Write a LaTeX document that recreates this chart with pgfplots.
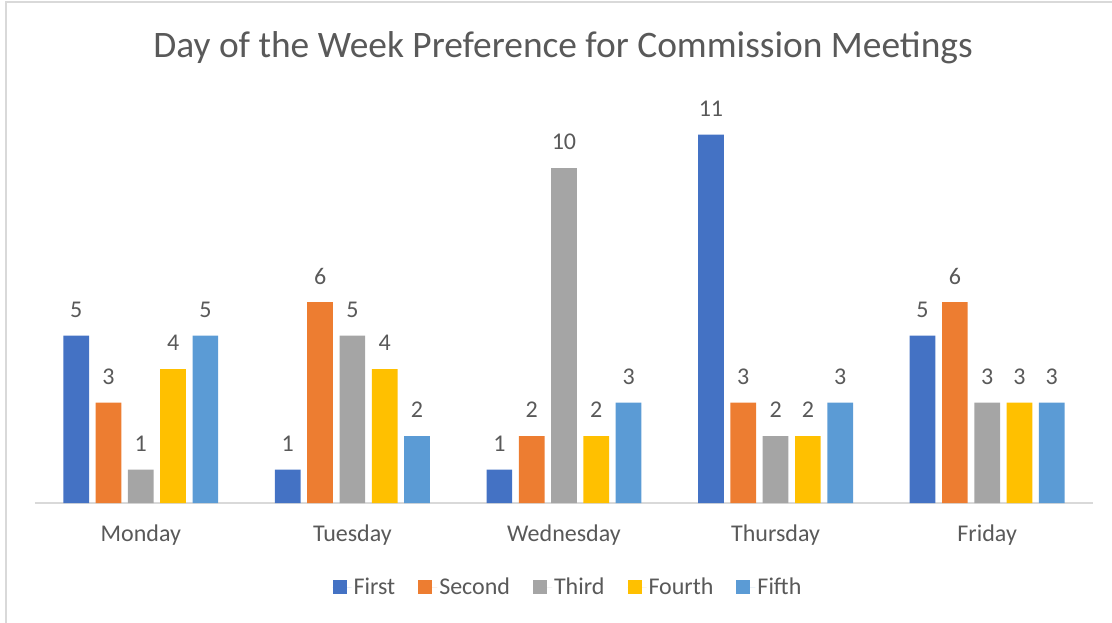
\documentclass[border=0pt]{standalone}
\usepackage{pgfplots}
\pgfplotsset{compat=1.18}
\usepackage{fontspec}
\setmainfont{Carlito}
\definecolor{cA}{HTML}{4472C4}
\definecolor{cB}{HTML}{ED7D31}
\definecolor{cC}{HTML}{A5A5A5}
\definecolor{cD}{HTML}{FFC000}
\definecolor{cE}{HTML}{5B9BD5}
\definecolor{txt}{HTML}{595959}
\definecolor{ln}{HTML}{D9D9D9}
\begin{document}
\begin{tikzpicture}[x=1pt,y=1pt]
\path[use as bounding box] (-35,-119) rectangle (1077,503);
\draw[ln, line width=1.2pt] (-29,-125) -- (-29,501) -- (1085,501);
\begin{axis}[
  at={(0,0)}, anchor=south west,
  scale only axis,
  width=1058pt, height=402pt,
  ymin=0, ymax=12,
  xmin=-0.5, xmax=4.5,
  ybar=6.6pt, bar width=25.7pt,
  axis x line*=bottom,
  axis y line=none,
  x axis line style={draw=ln, line width=1.5pt, -},
  xtick={0,1,2,3,4},
  xticklabels={Monday,Tuesday,Wednesday,Thursday,Friday},
  major tick length=0pt,
  xticklabel style={font=\fontsize{24}{28}\selectfont, text=txt, anchor=center, yshift=-32pt},
  nodes near coords,
  every node near coord/.append style={font=\fontsize{24}{28}\selectfont, text=txt, anchor=center, yshift=26pt},
  /pgf/number format/assume math mode=true,
  legend columns=5,
  legend style={draw=none, font=\fontsize{24}{28}\selectfont, text=txt,
    at={(axis description cs:0.5038,-0.209)}, anchor=center,
    /tikz/every even column/.append style={column sep=21pt}},
  legend image code/.code={\fill[#1] (0pt,-7pt) rectangle (14pt,7pt); \path (0pt,0pt) -- (19pt,0pt);},
  clip=false,
]
\addplot[fill=cA, draw=none] coordinates {(0,5) (1,1) (2,1) (3,11) (4,5)};
\addplot[fill=cB, draw=none] coordinates {(0,3) (1,6) (2,2) (3,3) (4,6)};
\addplot[fill=cC, draw=none] coordinates {(0,1) (1,5) (2,10) (3,2) (4,3)};
\addplot[fill=cD, draw=none] coordinates {(0,4) (1,4) (2,2) (3,2) (4,3)};
\addplot[fill=cE, draw=none] coordinates {(0,5) (1,2) (2,3) (3,3) (4,3)};
\legend{First,Second,Third,Fourth,Fifth}
\end{axis}
\node[font=\fontsize{37.4}{42}\selectfont, text=txt] at (528,455) {Day of the Week Preference for Commission Meetings};
\end{tikzpicture}
\end{document}
